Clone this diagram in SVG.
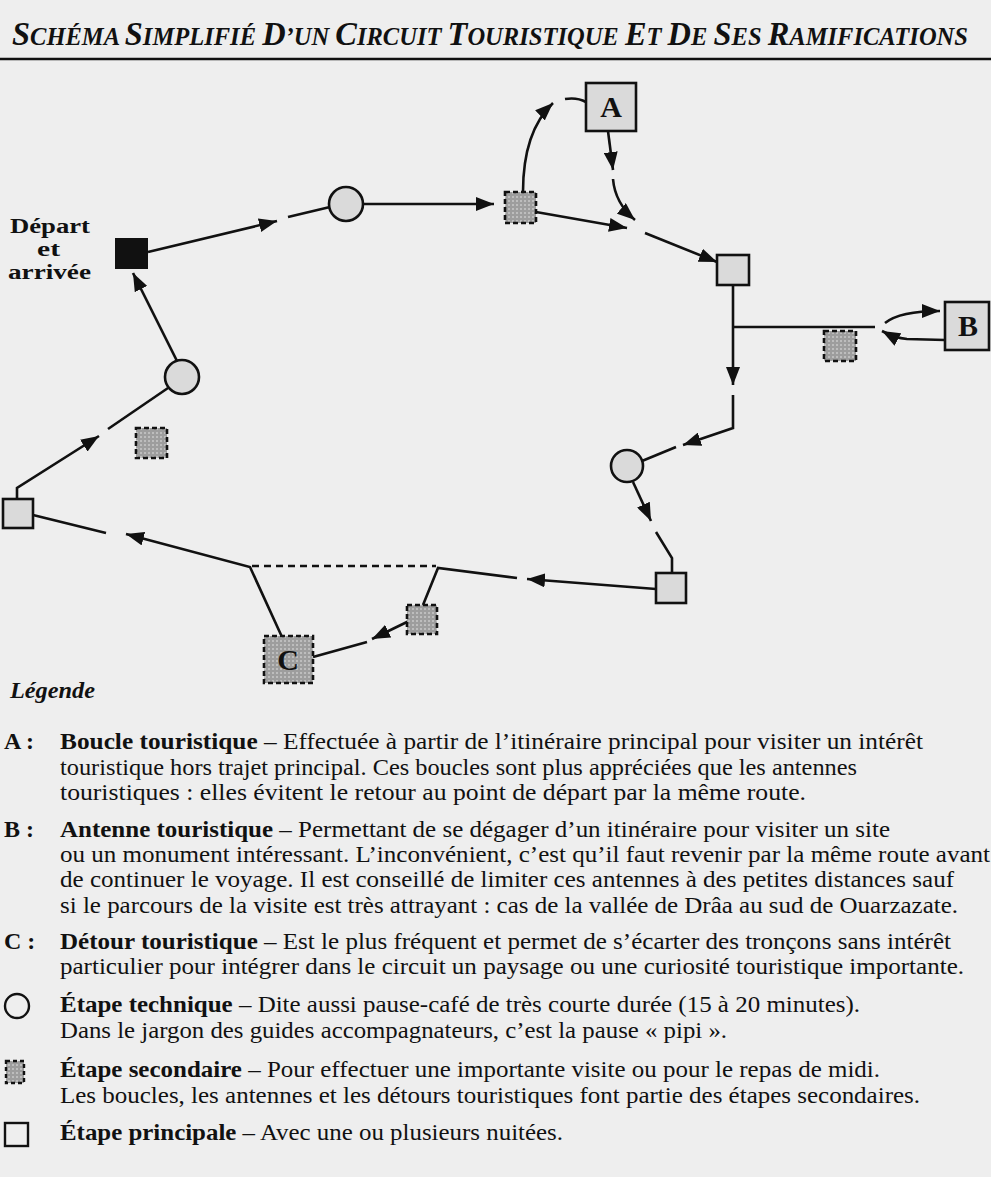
<svg xmlns="http://www.w3.org/2000/svg" width="991" height="1177" viewBox="0 0 991 1177">
<defs>
<marker id="ah" markerUnits="userSpaceOnUse" markerWidth="20" markerHeight="14" refX="18" refY="7" orient="auto">
<path d="M0,0 L18,7 L0,14 z" fill="#111"/>
</marker>
<pattern id="stip" width="4" height="4" patternUnits="userSpaceOnUse">
<rect width="4" height="4" fill="#9d9d9d"/>
<rect x="0" y="0" width="2" height="2" fill="#bdbdbd"/>
</pattern>
<style>
.ln{fill:none;stroke:#111;stroke-width:2.6}
.ar{marker-end:url(#ah)}
.main{fill:#dadada;stroke:#111;stroke-width:2.6}
.tech{fill:#dadada;stroke:#111;stroke-width:2.6}
.sec{fill:url(#stip);stroke:#111;stroke-width:2.6;stroke-dasharray:5 3}
.big{font-family:"Liberation Serif",serif;font-weight:bold;fill:#111}
.lg{font-family:"Liberation Serif",serif;font-size:24px;fill:#111}
.b{font-weight:bold}
</style>
</defs>
<rect width="991" height="1177" fill="#eeeeee"/>
<g id="title">
<text x="12" y="45" textLength="956" lengthAdjust="spacingAndGlyphs" font-family="Liberation Serif, serif" font-style="italic" font-weight="bold" font-size="25" fill="#111"><tspan font-size="33">S</tspan>CHÉMA <tspan font-size="33">S</tspan>IMPLIFIÉ <tspan font-size="33">D</tspan>’UN <tspan font-size="33">C</tspan>IRCUIT <tspan font-size="33">T</tspan>OURISTIQUE <tspan font-size="33">E</tspan>T <tspan font-size="33">D</tspan>E <tspan font-size="33">S</tspan>ES <tspan font-size="33">R</tspan>AMIFICATIONS</text>
<line x1="0" y1="59" x2="991" y2="59" stroke="#111" stroke-width="2.5"/>
</g>
<g id="connectors">
<path class="ln ar" d="M148,252 L277,221"/>
<path class="ln" d="M288,217 L330,207"/>
<path class="ln ar" d="M363,204 L494,204"/>
<path class="ln ar" d="M523,192 C523,150 533,122 553,103"/>
<path class="ln" d="M565,99 Q577,97 586,102"/>
<path class="ln ar" d="M608,131 L613,170"/>
<path class="ln ar" d="M613,179 Q615,203 635,220"/>
<path class="ln ar" d="M536,212 L627,228"/>
<path class="ln ar" d="M645,233 L717,262"/>
<path class="ln ar" d="M733,285 L733,385"/>
<path class="ln" d="M733,327 L875,327"/>
<path class="ln ar" d="M885,323 Q900,311 940,311"/>
<path class="ln ar" d="M945,340 L907,339 Q895,338 882,331"/>
<path class="ln ar" d="M733,395 L733,428 L683,445"/>
<path class="ln" d="M676,447 L642,461"/>
<path class="ln ar" d="M633,482 L651,521"/>
<path class="ln" d="M656,532 L672,558 L672,573"/>
<path class="ln ar" d="M656,589 L527,579"/>
<path class="ln" d="M517,578 L438,568 L423,605"/>
<path class="ln" d="M252,566 L436,566" stroke-dasharray="7 5"/>
<path class="ln ar" d="M409,621 L372,639"/>
<path class="ln" d="M367,642 L313,657"/>
<path class="ln ar" d="M282,637 L250,567 L126,534"/>
<path class="ln" d="M106,533 L33,515"/>
<path class="ln ar" d="M17,499 L17,488 L99,436"/>
<path class="ln" d="M108,429 L168,388"/>
<path class="ln ar" d="M177,361 L133,273"/>
</g>
<g id="depart">
<rect x="115" y="238" width="33" height="31" fill="#111"/>
<text class="big" x="10" y="233" font-size="20" textLength="80" lengthAdjust="spacingAndGlyphs">Départ</text>
<text class="big" x="37" y="256" font-size="20" textLength="23" lengthAdjust="spacingAndGlyphs">et</text>
<text class="big" x="8" y="279" font-size="20" textLength="83" lengthAdjust="spacingAndGlyphs">arrivée</text>
</g>
<g id="tech1"><circle class="tech" cx="346" cy="204" r="17"/></g>
<g id="sec1"><rect class="sec" x="505" y="192" width="31" height="31"/></g>
<g id="nodeA"><rect class="main" x="586" y="83" width="50" height="48"/><text class="big" x="611" y="117" font-size="30" text-anchor="middle">A</text></g>
<g id="main1"><rect class="main" x="717" y="255" width="32" height="30"/></g>
<g id="sec2"><rect class="sec" x="824" y="331" width="32" height="30"/></g>
<g id="nodeB"><rect class="main" x="945" y="302" width="44" height="48"/><text class="big" x="968" y="336" font-size="30" text-anchor="middle">B</text></g>
<g id="tech2"><circle class="tech" cx="627" cy="466" r="16"/></g>
<g id="main2"><rect class="main" x="656" y="573" width="30" height="30"/></g>
<g id="sec3"><rect class="sec" x="407" y="605" width="30" height="29"/></g>
<g id="nodeC"><rect class="sec" x="264" y="636" width="49" height="47"/><text class="big" x="288" y="670" font-size="30" text-anchor="middle">C</text></g>
<g id="main3"><rect class="main" x="3" y="499" width="30" height="29"/></g>
<g id="sec4"><rect class="sec" x="136" y="428" width="31" height="30"/></g>
<g id="tech3"><circle class="tech" cx="182" cy="377" r="17"/></g>
<g id="legend">
<text x="10" y="698" textLength="85" lengthAdjust="spacingAndGlyphs" font-family="Liberation Serif, serif" font-style="italic" font-weight="bold" font-size="24" fill="#111">Légende</text>
<text class="lg b" x="4" y="749">A :</text>
<text class="lg" x="60" y="749" textLength="863" lengthAdjust="spacingAndGlyphs"><tspan class="b">Boucle touristique</tspan> – Effectuée à partir de l’itinéraire principal pour visiter un intérêt</text>
<text class="lg" x="60" y="775" textLength="797" lengthAdjust="spacingAndGlyphs">touristique hors trajet principal. Ces boucles sont plus appréciées que les antennes</text>
<text class="lg" x="60" y="800" textLength="746" lengthAdjust="spacingAndGlyphs">touristiques : elles évitent le retour au point de départ par la même route.</text>
<text class="lg b" x="4" y="837">B :</text>
<text class="lg" x="60" y="837" textLength="830" lengthAdjust="spacingAndGlyphs"><tspan class="b">Antenne touristique</tspan> – Permettant de se dégager d’un itinéraire pour visiter un site</text>
<text class="lg" x="60" y="862" textLength="930" lengthAdjust="spacingAndGlyphs">ou un monument intéressant. L’inconvénient, c’est qu’il faut revenir par la même route avant</text>
<text class="lg" x="60" y="887" textLength="894" lengthAdjust="spacingAndGlyphs">de continuer le voyage. Il est conseillé de limiter ces antennes à des petites distances sauf</text>
<text class="lg" x="60" y="913" textLength="898" lengthAdjust="spacingAndGlyphs">si le parcours de la visite est très attrayant : cas de la vallée de Drâa au sud de Ouarzazate.</text>
<text class="lg b" x="4" y="949">C :</text>
<text class="lg" x="60" y="949" textLength="891" lengthAdjust="spacingAndGlyphs"><tspan class="b">Détour touristique</tspan> – Est le plus fréquent et permet de s’écarter des tronçons sans intérêt</text>
<text class="lg" x="60" y="974" textLength="904" lengthAdjust="spacingAndGlyphs">particulier pour intégrer dans le circuit un paysage ou une curiosité touristique importante.</text>
<circle cx="17" cy="1006" r="12" fill="none" stroke="#111" stroke-width="2.4"/>
<text class="lg" x="60" y="1012" textLength="800" lengthAdjust="spacingAndGlyphs"><tspan class="b">Étape technique</tspan> – Dite aussi pause-café de très courte durée (15 à 20 minutes).</text>
<text class="lg" x="60" y="1038" textLength="667" lengthAdjust="spacingAndGlyphs">Dans le jargon des guides accompagnateurs, c’est la pause « pipi ».</text>
<rect x="6" y="1061" width="18" height="22" fill="url(#stip)" stroke="#111" stroke-width="2.4" stroke-dasharray="4 3"/>
<text class="lg" x="60" y="1077" textLength="820" lengthAdjust="spacingAndGlyphs"><tspan class="b">Étape secondaire</tspan> – Pour effectuer une importante visite ou pour le repas de midi.</text>
<text class="lg" x="60" y="1103" textLength="860" lengthAdjust="spacingAndGlyphs">Les boucles, les antennes et les détours touristiques font partie des étapes secondaires.</text>
<rect x="5" y="1123" width="23" height="23" fill="none" stroke="#111" stroke-width="2.4"/>
<text class="lg" x="60" y="1140" textLength="503" lengthAdjust="spacingAndGlyphs"><tspan class="b">Étape principale</tspan> – Avec une ou plusieurs nuitées.</text>
</g>
</svg>
